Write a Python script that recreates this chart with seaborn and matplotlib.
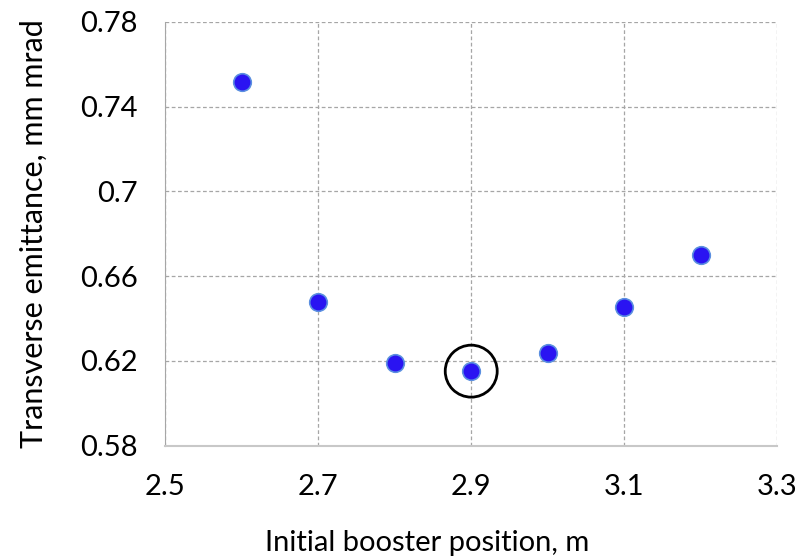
import numpy as np
import pandas as pd
import matplotlib
matplotlib.use('Agg')
import matplotlib.pyplot as plt
import seaborn as sb

# dati
pozicija = [2.6, 2.7, 2.8, 2.9, 3.0, 3.1, 3.2]
emitance = [0.7515, 0.6478, 0.6192, 0.6152, 0.6238, 0.6455, 0.6700]
x_ticki = [2.5, 2.7, 2.9, 3.1, 3.3]
y_ticki = [0.58, 0.62, 0.66, 0.70, 0.74, 0.78]
izcelts = 2.9

sb.set_style('white')
plt.rcParams['font.family'] = ['Lato', 'DejaVu Sans']
plt.rcParams['text.color'] = 'black'
plt.rcParams['axes.labelcolor'] = 'black'
plt.rcParams['xtick.color'] = 'black'
plt.rcParams['ytick.color'] = 'black'

df = pd.DataFrame({'pozicija': pozicija, 'emitance': emitance})

fig = plt.figure(figsize=(7.98, 5.6), dpi=100)
ax = fig.add_axes([0.207, 0.204, 0.767, 0.757])

sb.scatterplot(data=df, x='pozicija', y='emitance', ax=ax, s=160,
               color='#2a14f2', edgecolor='#5b8fe0', linewidth=1.2, zorder=3)

# aplis ap labāko punktu
y_izc = emitance[pozicija.index(izcelts)]
ax.scatter([izcelts], [y_izc], s=1400, facecolors='none', edgecolors='black',
           linewidths=2, zorder=4)

ax.set_xlim(2.5, 3.3)
ax.set_ylim(0.58, 0.78)
ax.set_xticks(x_ticki)
ax.set_yticks(y_ticki)
ax.set_xticklabels(['{:g}'.format(v) for v in x_ticki])
ax.set_yticklabels(['{:g}'.format(v) for v in y_ticki])
ax.tick_params(axis='y', length=0, labelsize=21, pad=20)
ax.tick_params(axis='x', length=0, labelsize=21, pad=20)

ax.grid(True, linestyle=(0, (3, 2)), color='#a6a6a6', linewidth=0.9)
ax.set_axisbelow(True)
for s in ['top', 'right']:
    ax.spines[s].set_visible(False)
ax.spines['left'].set_color('#a6a6a6')
ax.spines['bottom'].set_color('#c8c8c8')
ax.spines['bottom'].set_linewidth(1.5)

ax.set_xlabel('Initial booster position, m', fontsize=21, labelpad=22, x=0.428)
ax.set_ylabel('Transverse emittance, mm mrad', fontsize=22, labelpad=23)

plt.savefig('out.png', dpi=100)
